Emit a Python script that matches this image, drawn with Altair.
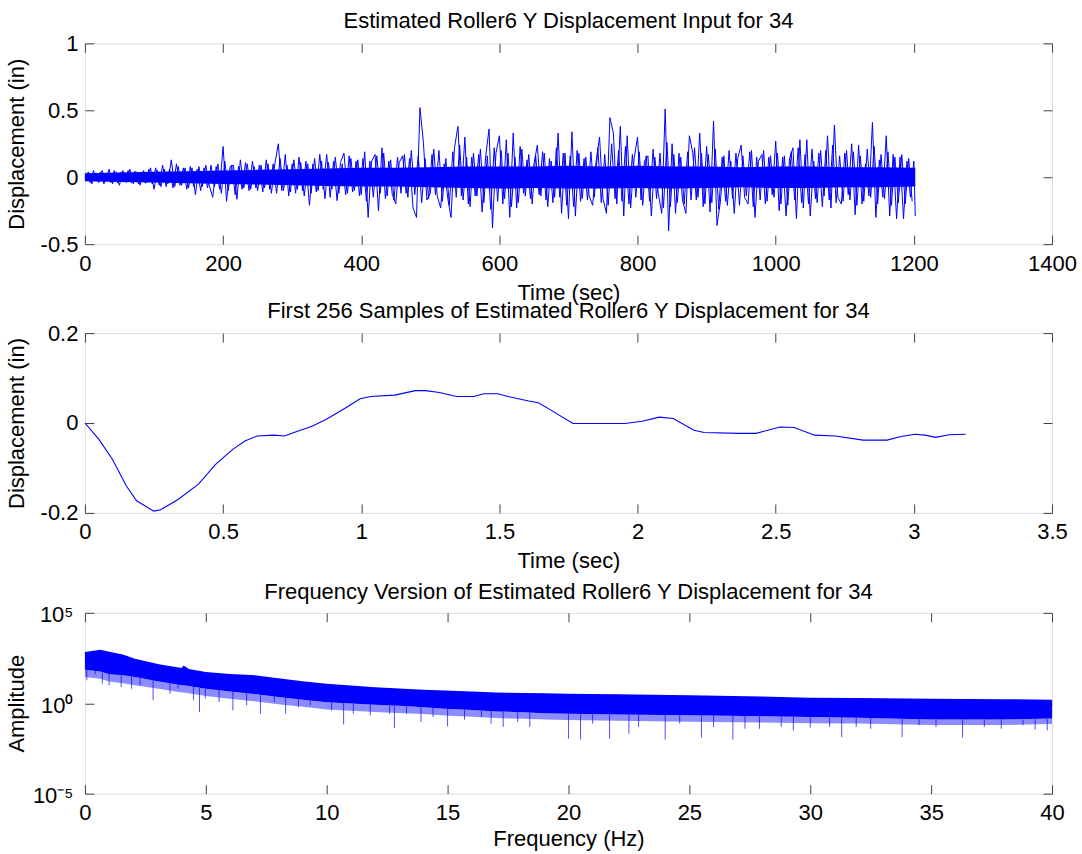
import altair as alt
import pandas as pd

BLUE = "#0000ff"
FONT = "Liberation Sans"
AX = "#404040"
FS = 22

# ---------------- Panel 1: estimated displacement input (sec, in) ----------------
input_time = list(range(0, 1201, 5)) + [1202]
input_disp = [
    # 0-95
    0.00, 0.04, -0.05, 0.03, -0.04, 0.05, -0.03, 0.06, -0.05, 0.04,
    -0.06, 0.05, -0.04, 0.06, -0.05, 0.04, -0.06, 0.05, -0.04, 0.07,
    # 100-195
    -0.09, 0.05, -0.07, 0.06, -0.05, 0.13, -0.07, 0.08, -0.06, 0.07,
    -0.08, 0.07, -0.13, 0.08, -0.07, 0.09, -0.06, -0.15, 0.08, -0.09,
    # 200-295
    0.23, -0.18, 0.08, 0.09, -0.165, 0.13, -0.08, 0.10, -0.09, 0.08,
    -0.10, 0.09, -0.08, 0.10, -0.12, 0.10, 0.25, -0.10, 0.17, -0.14,
    # 300-395
    0.10, -0.12, 0.15, -0.10, 0.12, -0.21, 0.10, -0.11, 0.17, -0.09,
    0.17, -0.15, 0.12, -0.175, 0.11, 0.18, -0.12, 0.14, -0.10, 0.13,
    # 400-495
    -0.13, 0.19, -0.30, 0.12, 0.17, -0.25, 0.22, -0.16, 0.12, -0.13,
    -0.20, 0.11, 0.16, -0.12, 0.14, -0.23, -0.30, 0.52, 0.26, -0.17,
    # 500-595
    -0.12, 0.21, -0.14, -0.23, 0.10, -0.15, -0.30, 0.22, 0.38, -0.14,
    0.30, -0.20, 0.15, -0.14, 0.17, -0.26, 0.15, 0.36, -0.38, 0.18,
    # 600-695
    0.31, -0.20, 0.28, -0.30, 0.33, -0.23, 0.23, -0.12, 0.13, -0.16,
    0.10, 0.24, -0.14, 0.18, -0.22, 0.12, -0.15, 0.33, -0.27, 0.18,
    # 700-795
    -0.31, 0.34, -0.29, 0.18, -0.16, 0.15, -0.14, -0.21, 0.12, 0.30,
    -0.16, -0.27, 0.445, 0.33, -0.20, 0.38, -0.29, 0.31, -0.23, 0.14,
    # 800-895
    0.30, -0.17, 0.12, 0.16, -0.29, 0.15, -0.12, -0.27, 0.51, -0.40,
    0.25, -0.27, 0.18, -0.17, -0.27, 0.31, 0.18, -0.17, 0.33, -0.22,
    # 900-995
    0.23, -0.26, 0.42, -0.36, -0.18, 0.16, -0.21, 0.12, -0.27, 0.14,
    0.24, -0.15, -0.20, 0.20, -0.30, 0.12, 0.17, -0.20, 0.15, -0.13,
    # 1000-1095
    0.27, -0.25, 0.15, -0.29, 0.14, 0.22, -0.31, 0.28, -0.23, 0.28,
    -0.29, 0.12, -0.19, 0.20, -0.14, 0.31, -0.23, 0.39, -0.15, -0.20,
    # 1100-1195
    0.18, -0.13, 0.25, -0.28, 0.24, -0.20, 0.10, -0.14, 0.41, -0.30,
    0.13, -0.15, 0.31, -0.29, 0.17, -0.31, 0.15, -0.31, 0.12, -0.15,
    # 1200, 1202
    0.12, -0.29,
]
# in-between samples (t = 2.5, 7.5, ...), the moderate part of the trace
mid_time = [2.5 + 5 * k for k in range(240)]
mid_disp = [
    0.03, -0.04, 0.05, -0.03, 0.04, -0.05, 0.035, -0.04, 0.05, -0.045,
    0.04, -0.035, 0.05, -0.04, 0.045, -0.05, 0.04, -0.045, 0.06, -0.05,
    0.07, -0.06, 0.09, -0.07, 0.06, -0.08, 0.10, -0.06, 0.07, -0.09,
    0.08, -0.07, 0.06, -0.10, 0.07, -0.08, 0.09, -0.07, 0.10, -0.12,
    0.12, -0.10, 0.09, -0.13, 0.08, -0.09, 0.11, -0.10, 0.12, -0.08,
    0.09, -0.11, 0.13, -0.09, 0.10, -0.12, 0.14, -0.10, 0.09, -0.11,
    0.13, -0.09, 0.11, -0.14, 0.10, -0.12, 0.14, -0.10, 0.12, -0.16,
    0.11, -0.09, 0.15, -0.12, 0.10, -0.13, 0.16, -0.11, 0.12, -0.14,
    0.14, -0.18, 0.12, -0.15, 0.16, -0.12, 0.18, -0.14, 0.13, -0.17,
    0.15, -0.12, 0.17, -0.15, 0.20, -0.13, 0.16, -0.19, 0.14, -0.16,
    0.17, -0.13, 0.20, -0.18, 0.14, -0.21, 0.19, -0.15, 0.24, -0.17,
    0.15, -0.22, 0.18, -0.14, 0.21, -0.19, 0.16, -0.24, 0.22, -0.18,
    0.20, -0.16, 0.18, -0.22, 0.15, -0.19, 0.21, -0.14, 0.17, -0.20,
    0.16, -0.13, 0.19, -0.17, 0.14, -0.19, 0.22, -0.15, 0.18, -0.21,
    0.16, -0.22, 0.20, -0.18, 0.14, -0.17, 0.19, -0.15, 0.22, -0.19,
    0.17, -0.21, 0.25, -0.16, 0.20, -0.18, 0.23, -0.20, 0.17, -0.15,
    0.19, -0.21, 0.16, -0.18, 0.21, -0.16, 0.18, -0.23, 0.26, -0.22,
    0.17, -0.19, 0.15, -0.20, 0.19, -0.17, 0.22, -0.15, 0.18, -0.20,
    0.17, -0.19, 0.21, -0.24, 0.15, -0.18, 0.20, -0.16, 0.18, -0.21,
    0.16, -0.14, 0.19, -0.22, 0.15, -0.17, 0.20, -0.18, 0.16, -0.15,
    0.18, -0.20, 0.16, -0.21, 0.19, -0.17, 0.22, -0.19, 0.17, -0.20,
    0.21, -0.16, 0.18, -0.22, 0.20, -0.17, 0.24, -0.19, 0.16, -0.18,
    0.20, -0.17, 0.19, -0.21, 0.16, -0.18, 0.21, -0.15, 0.23, -0.20,
    0.17, -0.16, 0.19, -0.21, 0.15, -0.19, 0.17, -0.20, 0.14, -0.18,
]
# dense core of the trace (envelope of the solid blue band)
core_time = [0, 50, 100, 150, 200, 250, 300, 350, 400, 450, 500, 550, 600, 650,
             700, 750, 800, 850, 900, 950, 1000, 1050, 1100, 1150, 1202]
core_upper = [0.03, 0.035, 0.04, 0.045, 0.05, 0.055, 0.06, 0.065, 0.07, 0.07, 0.075,
              0.08, 0.08, 0.08, 0.085, 0.08, 0.085, 0.08, 0.08, 0.075, 0.08, 0.08,
              0.075, 0.075, 0.07]
core_lower = [-0.03, -0.035, -0.04, -0.045, -0.05, -0.055, -0.06, -0.065, -0.07, -0.07,
              -0.075, -0.08, -0.085, -0.08, -0.085, -0.085, -0.08, -0.085, -0.08, -0.075,
              -0.08, -0.08, -0.075, -0.075, -0.07]

# ---------------- Panel 2: first 256 samples (sec, in) ----------------
first_time = [0.0, 0.050, 0.100, 0.150, 0.187, 0.249, 0.274, 0.337, 0.411, 0.473,
              0.536, 0.579, 0.623, 0.685, 0.722, 0.772, 0.822, 0.872, 0.934, 0.996,
              1.034, 1.121, 1.196, 1.233, 1.283, 1.345, 1.407, 1.444, 1.494, 1.531,
              1.606, 1.641, 1.691, 1.766, 1.954, 2.016, 2.079, 2.129, 2.204, 2.241,
              2.366, 2.429, 2.516, 2.566, 2.641, 2.716, 2.816, 2.903, 2.954, 3.004,
              3.041, 3.078, 3.128, 3.1875]
first_disp = [0.000, -0.036, -0.081, -0.140, -0.173, -0.196, -0.193, -0.170, -0.136, -0.092,
              -0.058, -0.040, -0.029, -0.027, -0.029, -0.018, -0.007, 0.008, 0.030, 0.054,
              0.059, 0.062, 0.072, 0.072, 0.068, 0.059, 0.059, 0.065, 0.065, 0.059,
              0.049, 0.045, 0.027, -0.001, -0.001, 0.004, 0.013, 0.010, -0.016, -0.021,
              -0.023, -0.023, -0.009, -0.010, -0.027, -0.029, -0.038, -0.038, -0.030, -0.025,
              -0.027, -0.032, -0.026, -0.025]

# ---------------- Panel 3: spectrum (Hz, amplitude exponent log10) ----------------
band_freq = [0, 0.64, 1, 1.57, 2.07, 3.06, 4.0, 4.08, 4.3, 5, 6, 7.1, 8, 9, 10, 11, 12,
             13.2, 14, 14.9, 16, 17, 18.1, 19, 20, 22, 25, 28, 30, 32, 35, 38, 40]
band_upper_exp = [2.83, 2.96, 2.85, 2.70, 2.46, 2.15, 1.95, 2.09, 1.90, 1.73, 1.62, 1.54,
                  1.38, 1.22, 1.08, 0.98, 0.88, 0.80, 0.75, 0.71, 0.65, 0.60, 0.56, 0.55,
                  0.53, 0.50, 0.44, 0.37, 0.31, 0.29, 0.25, 0.22, 0.20]
band_lower_exp = [1.85, 1.75, 1.60, 1.55, 1.45, 1.20, 1.00, 1.00, 0.95, 0.80, 0.65, 0.50,
                  0.35, 0.20, 0.05, -0.02, -0.08, -0.15, -0.22, -0.30, -0.38, -0.45, -0.50,
                  -0.55, -0.58, -0.62, -0.67, -0.72, -0.76, -0.80, -0.90, -0.90, -0.85]
band_fringe_exp = [1.45, 1.35, 1.20, 1.10, 1.00, 0.80, 0.60, 0.60, 0.55, 0.40, 0.25, 0.10,
                   -0.05, -0.20, -0.35, -0.42, -0.48, -0.55, -0.60, -0.68, -0.75, -0.82,
                   -0.86, -0.90, -0.93, -0.97, -1.02, -1.07, -1.10, -1.12, -1.20, -1.20, -1.15]
spike_freq = [0.08, 0.43, 0.72, 1.0, 1.5, 1.93, 2.28, 2.82, 3.52, 3.85, 4.49, 4.74, 4.98,
              5.55, 6.12, 6.69, 7.26, 7.83, 8.30, 8.83, 9.32, 10.2, 10.7, 11.1, 11.8, 12.6,
              12.8, 13.3, 13.9, 14.4, 15.0, 15.7, 16.4, 16.8, 17.3, 17.9, 18.4, 20.0, 20.5,
              21.0, 21.7, 22.5, 22.9, 24.0, 24.6, 25.5, 26.0, 26.8, 27.3, 27.9, 28.8, 29.3,
              30.0, 30.8, 31.3, 31.9, 32.5, 33.8, 34.5, 35.2, 36.3, 37.2, 37.9, 38.8, 39.3,
              39.8]
spike_low_exp = [1.27, 1.63, 1.08, 0.99, 0.90, 0.80, 0.99, 0.17, 0.53, 0.80, 0.17, -0.49,
                 0.26, 0.07, -0.40, -0.12, -0.58, 0.07, -0.58, -0.21, -0.12, -0.40, -1.17,
                 -0.58, -0.67, -0.58, -1.37, -0.58, -1.04, -0.76, -1.28, -0.91, -0.76, -1.13,
                 -1.31, -1.04, -1.31, -1.96, -2.01, -1.13, -1.96, -1.69, -1.31, -2.01, -1.13,
                 -1.90, -1.31, -2.01, -1.41, -1.41, -1.31, -1.50, -1.35, -1.31, -1.87, -1.31,
                 -1.41, -1.87, -1.22, -1.31, -1.90, -1.31, -1.41, -1.22, -1.46, -1.50]
spike_top_exp = [1.90, 1.80, 1.70, 1.65, 1.55, 1.50, 1.40, 1.30, 1.15, 1.05, 0.95, 0.85,
                 0.80, 0.75, 0.65, 0.55, 0.50, 0.40, 0.35, 0.25, 0.20, 0.05, 0.00, -0.02,
                 -0.05, -0.08, -0.10, -0.15, -0.20, -0.25, -0.30, -0.35, -0.40, -0.42, -0.45,
                 -0.50, -0.50, -0.58, -0.58, -0.60, -0.60, -0.62, -0.62, -0.65, -0.66, -0.67,
                 -0.68, -0.70, -0.70, -0.72, -0.74, -0.75, -0.76, -0.78, -0.78, -0.80, -0.80,
                 -0.85, -0.88, -0.90, -0.90, -0.90, -0.90, -0.90, -0.88, -0.86]

# ---------------- tables ----------------
df1 = pd.DataFrame({"t": input_time, "d": input_disp})
df1b = pd.DataFrame({"t": mid_time, "d": mid_disp})
df1c = pd.DataFrame({"t": core_time, "hi": core_upper, "lo": core_lower})
df2 = pd.DataFrame({"t": first_time, "d": first_disp})
df3 = pd.DataFrame({"f": band_freq,
                    "hi": [10 ** e for e in band_upper_exp],
                    "lo": [10 ** e for e in band_lower_exp],
                    "fr": [10 ** e for e in band_fringe_exp]})
df3s = pd.DataFrame({"f": spike_freq,
                     "lo": [10 ** e for e in spike_low_exp],
                     "top": [10 ** e for e in spike_top_exp]})

NUM = "datum.value < 0 ? '-' + format(-datum.value, '~g') : format(datum.value, '~g')"
POW = "datum.value > 10 ? '10\u2075' : (datum.value < 0.1 ? '10\u207b\u2075' : '10\u2070')"


def x_axis(title, values, title_y):
    return alt.Axis(orient="bottom", values=values, offset=-9, tickSize=9, tickColor=AX,
                    domain=False, grid=False, labelExpr=NUM, labelFlush=False,
                    labelOverlap=False, labelPadding=9, labelFontSize=FS, labelColor="black",
                    labelFont=FONT, title=title, titleFont=FONT, titleFontSize=FS,
                    titleFontWeight="normal", titleColor="black", titleBaseline="alphabetic",
                    titleAlign="center", titleY=title_y, minExtent=0)


def y_axis(title, values, height, expr=NUM, pad=7, loff=0):
    return alt.Axis(orient="left", values=values, offset=-9, tickSize=9, tickColor=AX,
                    domain=False, grid=False, labelExpr=expr, labelFlush=False,
                    labelOverlap=False, labelPadding=pad, labelOffset=loff,
                    labelFontSize=FS, labelColor="black", labelFont=FONT,
                    labelBaseline="middle", title=title, titleFont=FONT, titleFontSize=FS,
                    titleFontWeight="normal", titleColor="black", titleAngle=270,
                    titleBaseline="alphabetic", titleAlign="center", titleX=-70.5,
                    titleY=height / 2, minExtent=0)


def mirror(orient, values):
    return alt.Axis(orient=orient, values=values, offset=-9, tickSize=9, tickColor=AX,
                    domain=False, grid=False, labels=False, title=None, minExtent=0,
                    maxExtent=0)


def ptitle(text, off):
    return alt.TitleParams(text=text, fontSize=FS, fontWeight="normal", font=FONT,
                           color="black", anchor="middle", frame="group", offset=off,
                           baseline="alphabetic")


W = 968
H1, H2, H3 = 201, 180, 181
TOFF = -17.5

# Panel 1
xs1 = alt.Scale(domain=[0, 1400], nice=False, zero=False)
ys1 = alt.Scale(domain=[-0.5, 1], nice=False, zero=False)
xv1 = [0, 200, 400, 600, 800, 1000, 1200, 1400]
yv1 = [-0.5, 0, 0.5, 1]
l1 = alt.Chart(df1).mark_line(color=BLUE, strokeWidth=1).encode(
    x=alt.X("t:Q", scale=xs1, axis=x_axis("Time (sec)", xv1, 64)),
    y=alt.Y("d:Q", scale=ys1, axis=y_axis("Displacement (in)", yv1, H1)),
)
l1b = alt.Chart(df1b).mark_line(color=BLUE, strokeWidth=1).encode(
    x=alt.X("t:Q", scale=xs1, axis=None),
    y=alt.Y("d:Q", scale=ys1, axis=None),
)
c1 = alt.Chart(df1c).mark_area(color=BLUE, opacity=1).encode(
    x=alt.X("t:Q", scale=xs1, axis=None),
    y=alt.Y("hi:Q", scale=ys1, axis=None),
    y2="lo:Q",
)
m1 = alt.Chart(df1).mark_point(opacity=0).encode(
    x=alt.X("t:Q", scale=xs1, axis=mirror("top", xv1)),
    y=alt.Y("d:Q", scale=ys1, axis=mirror("right", yv1)),
)
p1 = alt.layer(l1, l1b, c1, m1).resolve_axis(x="independent", y="independent").properties(
    width=W, height=H1, title=ptitle("Estimated Roller6 Y Displacement Input for 34", TOFF))

# Panel 2
xs2 = alt.Scale(domain=[0, 3.5], nice=False, zero=False)
ys2 = alt.Scale(domain=[-0.2, 0.2], nice=False, zero=False)
xv2 = [0, 0.5, 1, 1.5, 2, 2.5, 3, 3.5]
yv2 = [-0.2, 0, 0.2]
l2 = alt.Chart(df2).mark_line(color=BLUE, strokeWidth=1.1).encode(
    x=alt.X("t:Q", scale=xs2, axis=x_axis("Time (sec)", xv2, 64)),
    y=alt.Y("d:Q", scale=ys2, axis=y_axis("Displacement (in)", yv2, H2)),
)
m2 = alt.Chart(df2).mark_point(opacity=0).encode(
    x=alt.X("t:Q", scale=xs2, axis=mirror("top", xv2)),
    y=alt.Y("d:Q", scale=ys2, axis=mirror("right", yv2)),
)
p2 = alt.layer(l2, m2).resolve_axis(x="independent", y="independent").properties(
    width=W, height=H2,
    title=ptitle("First 256 Samples of Estimated Roller6 Y Displacement for 34", TOFF))

# Panel 3
xs3 = alt.Scale(domain=[0, 40], nice=False, zero=False)
ys3 = alt.Scale(type="log", domain=[1e-5, 1e5], nice=False)
xv3 = [0, 5, 10, 15, 20, 25, 30, 35, 40]
yv3 = [1e-5, 1, 1e5]
band = alt.Chart(df3).mark_area(color=BLUE, opacity=1).encode(
    x=alt.X("f:Q", scale=xs3, axis=x_axis("Frequency (Hz)", xv3, 61)),
    y=alt.Y("hi:Q", scale=ys3, axis=y_axis("Amplitude", yv3, H3, POW, 12, 2)),
    y2="lo:Q",
)
fringe = alt.Chart(df3).mark_area(color=BLUE, opacity=0.45).encode(
    x=alt.X("f:Q", scale=xs3, axis=None),
    y=alt.Y("lo:Q", scale=ys3, axis=None),
    y2="fr:Q",
)
spikes = alt.Chart(df3s).mark_rule(color=BLUE, strokeWidth=1, opacity=0.7).encode(
    x=alt.X("f:Q", scale=xs3, axis=None),
    y=alt.Y("lo:Q", scale=ys3, axis=None),
    y2="top:Q",
)
m3 = alt.Chart(df3).mark_point(opacity=0).encode(
    x=alt.X("f:Q", scale=xs3, axis=mirror("top", xv3)),
    y=alt.Y("hi:Q", scale=ys3, axis=mirror("right", yv3)),
)
p3 = alt.layer(band, fringe, spikes, m3).resolve_axis(x="independent", y="independent").properties(
    width=W, height=H3,
    title=ptitle("Frequency Version of Estimated Roller6 Y Displacement for 34", TOFF))

lower = alt.vconcat(p2, p3, spacing=100, bounds="flush")
chart = alt.vconcat(p1, lower, spacing=89, bounds="flush").properties(
    padding={"left": 5, "top": 9, "right": 5, "bottom": 0}
).configure_view(stroke=AX, strokeWidth=1).configure(font=FONT, background="white")

chart.save("out.html", embed_options={"renderer": "svg", "actions": False})
